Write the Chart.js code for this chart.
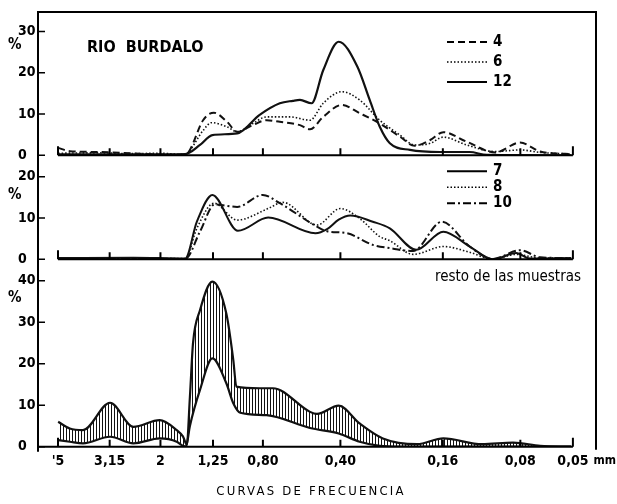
<!DOCTYPE html>
<html>
<head>
<meta charset="utf-8">
<script src="https://cdn.jsdelivr.net/npm/chart.js@4"></script>
<style>
  html, body { margin: 0; padding: 0; background: #fff; }
</style>
</head>
<body>
<canvas id="c" width="617" height="504"></canvas>
<script>
// tamaños de tamiz (mm) y sus rótulos
const tickMm = [5, 3.15, 2, 1.25, 0.8, 0.4, 0.16, 0.08, 0.05];
const tickLabels = ["'5", '3,15', '2', '1,25', '0,80', '0,40', '0,16', '0,08', '0,05'];
const tickPhi = tickMm.map(mm => -Math.log2(mm));

// panel superior: muestras 4, 6, 12 (x en unidades phi = -log2 mm)
const s4X = [-2.32, -2.17, -1.78, -1.39, -1.01, -0.68, -0.62, -0.45, -0.31, -0.14, -0.01, 0.19, 0.37, 0.54, 0.80, 0.93, 1.10, 1.34, 1.57, 1.83, 2.09, 2.28, 2.48, 2.65, 2.95, 3.32, 3.64, 3.90, 4.06, 4.30];
const s4Y = [1.8, 1.0, 0.8, 0.5, 0.2, 0.1, 1.3, 8.5, 10.3, 8.1, 5.7, 7.3, 8.5, 8.1, 7.3, 6.3, 9.3, 12.2, 10.2, 7.7, 4.5, 2.3, 3.7, 5.6, 3.3, 0.7, 3.1, 0.9, 0.5, 0.3];
const s6X = [-2.32, -1.78, -1.39, -1.01, -0.68, -0.62, -0.45, -0.34, -0.14, -0.01, 0.19, 0.37, 0.54, 0.67, 0.93, 1.10, 1.34, 1.57, 1.83, 2.09, 2.28, 2.48, 2.65, 2.95, 3.32, 3.64, 3.90, 4.30];
const s6Y = [0.5, 0.6, 0.4, 0.5, 0.2, 1.2, 6.0, 7.9, 6.9, 5.7, 7.7, 9.3, 9.3, 9.3, 8.5, 12.6, 15.4, 13.4, 8.5, 4.9, 2.5, 2.9, 4.4, 2.5, 0.9, 1.3, 0.7, 0.3];
const s12X = [-2.32, -1.40, -0.68, -0.49, -0.33, -0.01, 0.28, 0.54, 0.71, 0.80, 0.95, 1.10, 1.30, 1.54, 1.70, 1.83, 1.96, 2.22, 2.61, 2.99, 3.21, 4.30];
const s12Y = [0.2, 0.2, 0.3, 2.5, 4.9, 5.3, 9.8, 12.6, 13.2, 13.4, 12.6, 20.6, 27.5, 21.5, 13.4, 6.9, 2.9, 1.3, 0.8, 0.8, 0.1, 0];

// panel central: muestras 7, 8, 10
const s7X = [-2.32, -1.35, -0.68, -0.53, -0.33, 0.00, 0.39, 1.00, 1.15, 1.30, 1.45, 1.74, 1.96, 2.30, 2.65, 2.99, 3.29, 3.59, 3.77, 4.30];
const s7Y = [0.3, 0.4, 0.2, 9.1, 15.6, 6.9, 10.1, 6.3, 7.3, 9.6, 10.6, 9.1, 7.5, 2.3, 6.7, 3.1, 0, 1.5, 0.2, 0.3];
const s8X = [-2.32, -0.68, -0.53, -0.31, -0.01, 0.39, 0.58, 1.02, 1.32, 1.57, 1.83, 1.96, 2.26, 2.65, 2.99, 3.29, 3.59, 3.90, 4.30];
const s8Y = [0.3, 0.2, 7.5, 13.6, 9.5, 12.3, 13.8, 8.3, 12.3, 9.9, 5.5, 4.5, 1.2, 3.1, 1.7, 0, 1.2, 0.3, 0.3];
const s10X = [-2.32, -0.68, -0.49, -0.30, -0.01, 0.32, 0.54, 1.02, 1.15, 1.41, 1.74, 1.96, 2.26, 2.63, 2.99, 3.29, 3.64, 3.90, 4.30];
const s10Y = [0.3, 0.1, 6.7, 13.3, 12.7, 15.6, 13.6, 7.9, 6.8, 6.3, 3.5, 2.7, 2.0, 9.1, 3.1, 0.1, 2.2, 0.5, 0.3];

// panel inferior: envolvente del resto de las muestras
const upX = [-2.32, -2.17, -2.00, -1.65, -1.35, -1.01, -0.79, -0.71, -0.66, -0.62, -0.58, -0.49, -0.33, -0.15, -0.06, -0.02, 0.28, 0.45, 0.93, 1.02, 1.30, 1.57, 1.87, 2.31, 2.65, 3.15, 3.55, 3.90, 4.30];
const upY = [6.0, 4.4, 4.0, 10.6, 4.8, 6.4, 4.0, 2.5, 0.5, 12.0, 24.9, 32.9, 39.8, 32.1, 20.9, 14.5, 14.1, 14.1, 8.4, 7.9, 9.9, 5.6, 2.0, 0.6, 2.0, 0.6, 1.0, 0.2, 0];
const lowX = [-2.32, -2.17, -2.00, -1.65, -1.35, -1.01, -0.79, -0.71, -0.67, -0.62, -0.49, -0.33, -0.15, -0.06, 0.03, 0.37, 0.93, 1.30, 1.57, 1.83, 2.09, 4.30];
const lowY = [1.6, 1.2, 0.8, 2.4, 0.8, 2.0, 1.2, 0.2, 0, 5.0, 13.7, 21.3, 15.3, 10.5, 8.2, 7.6, 4.5, 3.2, 1.2, 0.2, 0, 0];

const FONT = "'DejaVu Sans Condensed', 'Liberation Sans Narrow', 'DejaVu Sans', sans-serif";
const INK = '#111';

function pts(xs, ys) {
    return xs.map((x, i) => ({ x: x, y: ys[i] }));
}

function hatch() {
    const c = document.createElement('canvas');
    c.width = 3; c.height = 8;
    const g = c.getContext('2d');
    g.fillStyle = INK;
    g.fillRect(0, 0, 1, 8);
    return g.createPattern(c, 'repeat');
}

function line(label, xs, ys, axis, dash, width) {
    return {
        label: label, data: pts(xs, ys), yAxisID: axis,
        borderColor: INK, borderWidth: width, borderDash: dash,
        pointRadius: 0, fill: false, cubicInterpolationMode: 'monotone'
    };
}

function yScale(max, weight) {
    return {
        type: 'linear', position: 'left', stack: 'panels', stackWeight: weight,
        min: 0, max: max,
        grid: { display: false, drawTicks: false },
        border: { display: false },
        ticks: { crossAlign: 'far', padding: 0, color: '#000',
                 font: { family: FONT, size: 14, weight: 'bold' } },
        // solo múltiplos de 10, sin el máximo del eje
        afterBuildTicks: s => {
            const t = [];
            for (let v = 0; v <= max; v += 10) t.push({ value: v });
            s.ticks = t;
        },
        afterFit: s => { s.width = 20; }
    };
}

const dashed = [7, 4], dotted = [1.5, 2], dashDot = [8, 3, 2, 3];

const datasets = [
    line('4', s4X, s4Y, 'yTop', dashed, 2),
    line('6', s6X, s6Y, 'yTop', dotted, 1.6),
    line('12', s12X, s12Y, 'yTop', [], 2.2),
    line('7', s7X, s7Y, 'yMid', [], 2),
    line('8', s8X, s8Y, 'yMid', dotted, 1.6),
    line('10', s10X, s10Y, 'yMid', dashDot, 2),
    Object.assign(line('max', upX, upY, 'yBot', [], 2.2), { fill: '+1', backgroundColor: hatch() }),
    line('min', lowX, lowY, 'yBot', [], 2.2)
];

const decor = {
    id: 'decor',
    afterDraw(chart) {
        const ctx = chart.ctx, a = chart.chartArea, xs = chart.scales.x;
        ctx.save();
        ctx.strokeStyle = '#000';
        ctx.fillStyle = '#000';
        ctx.lineWidth = 2;

        // marco
        ctx.beginPath();
        ctx.moveTo(a.left, a.bottom + 5);
        ctx.lineTo(a.left, a.top);
        ctx.lineTo(a.right, a.top);
        ctx.lineTo(a.right, a.bottom + 3);
        ctx.stroke();

        const last = tickPhi.length - 1;
        ['yTop', 'yMid', 'yBot'].forEach(id => {
            const s = chart.scales[id];
            const y = s.getPixelForValue(0);
            const x0 = id === 'yBot' ? a.left : xs.getPixelForValue(tickPhi[0]);
            const x1 = xs.getPixelForValue(tickPhi[last]);
            ctx.lineWidth = 2;
            ctx.beginPath();
            ctx.moveTo(x0, y); ctx.lineTo(x1, y);
            tickPhi.forEach((v, i) => {
                const x = xs.getPixelForValue(v);
                const h = (i === 0 || i === last) ? 9 : 7;
                ctx.moveTo(x, y); ctx.lineTo(x, y - h);
            });
            ctx.stroke();
            ctx.lineWidth = 1.5;
            ctx.beginPath();
            s.ticks.forEach(t => {
                const yy = s.getPixelForValue(t.value);
                ctx.moveTo(a.left, yy); ctx.lineTo(a.left + 7, yy);
            });
            ctx.stroke();
        });

        ctx.font = 'bold 15px ' + FONT;
        ctx.textBaseline = 'middle';
        ctx.textAlign = 'left';
        ctx.fillText('%', 8, chart.scales.yTop.top + 33);
        ctx.fillText('%', 8, chart.scales.yMid.top + 40);
        ctx.fillText('%', 8, chart.scales.yBot.top + 39);

        ctx.font = 'bold 16px ' + FONT;
        ctx.fillText('RIO  BURDALO', a.left + 49, a.top + 36);

        // leyendas
        const legends = [
            { ids: [0, 1, 2], top: a.top + 30, step: 20 },
            { ids: [3, 4, 5], top: chart.scales.yMid.top + 16, step: 16 }
        ];
        ctx.font = 'bold 15px ' + FONT;
        legends.forEach(lg => {
            lg.ids.forEach((di, k) => {
                const ds = chart.data.datasets[di];
                const yy = lg.top + k * lg.step;
                ctx.save();
                ctx.lineWidth = ds.borderWidth;
                ctx.setLineDash(ds.borderDash);
                ctx.beginPath();
                ctx.moveTo(a.right - 149, yy); ctx.lineTo(a.right - 109, yy);
                ctx.stroke();
                ctx.restore();
                ctx.fillText(ds.label, a.right - 103, yy);
            });
        });

        ctx.font = '15px ' + FONT;
        ctx.textAlign = 'right';
        ctx.fillText('resto de las muestras', a.right - 15, chart.scales.yBot.top + 18);

        ctx.font = 'bold 12px ' + FONT;
        ctx.textAlign = 'right';
        ctx.fillText('mm', 616, a.bottom + 14);

        ctx.font = '13px ' + FONT;
        ctx.textAlign = 'center';
        ctx.letterSpacing = '2.2px';
        ctx.fillText('CURVAS DE FRECUENCIA', 311, a.bottom + 45);
        ctx.restore();
    }
};

new Chart(document.getElementById('c'), {
    type: 'line',
    data: { datasets: datasets },
    options: {
        responsive: false,
        animation: false,
        layout: { padding: { left: 18, top: 12, right: 21, bottom: 0 } },
        plugins: { legend: { display: false }, tooltip: { enabled: false } },
        scales: {
            x: {
                type: 'linear', min: -2.58, max: 4.62,
                grid: { display: false, drawTicks: false },
                border: { display: false },
                afterBuildTicks: s => { s.ticks = tickPhi.map(v => ({ value: v })); },
                ticks: {
                    autoSkip: false, maxRotation: 0, padding: 6, color: '#000',
                    font: { family: FONT, size: 14, weight: 'bold' },
                    callback: (v, i) => tickLabels[i]
                },
                afterFit: s => { s.height = 57.3; }
            },
            yBot: yScale(45.2, 187.4),
            yMid: yScale(25.2, 104),
            yTop: yScale(34.7, 143.3)
        }
    },
    plugins: [decor]
});
</script>
</body>
</html>
